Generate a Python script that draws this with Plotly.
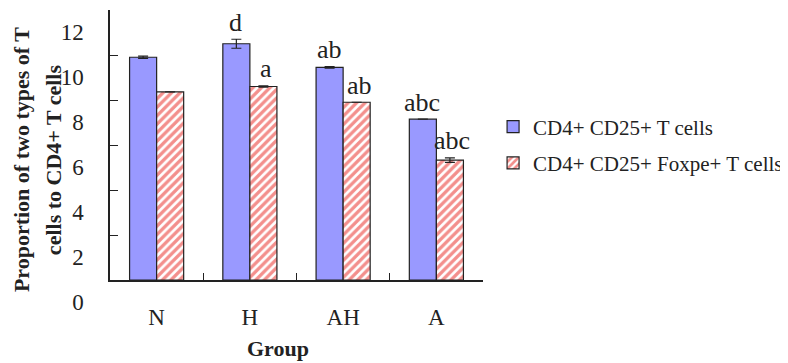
import plotly.graph_objects as go

groups = ["N", "H", "AH", "A"]
series_names = ["CD4+ CD25+ T cells", "CD4+ CD25+ Foxpe+ T cells"]
cd25 = [9.9, 10.5, 9.45, 7.15]
cd25_err = [0.05, 0.2, 0.03, 0.0]
foxp = [8.36, 8.6, 7.9, 5.33]
foxp_err = [0.0, 0.03, 0.0, 0.1]
cd25_letters = ["", "d", "ab", "abc"]
foxp_letters = ["", "a", "ab", "abc"]
y_ticks = [0, 2, 4, 6, 8, 10, 12]
y_title_lines = ["Proportion of two types of T", "cells to CD4+ T cells"]
x_title = "Group"

serif = "Liberation Serif"
ink = "#222222"
fig = go.Figure()
fig.add_trace(go.Bar(
    x=groups, y=cd25, name=series_names[0], legendgroup="g1",
    marker=dict(color="#9999FF", line=dict(color=ink, width=1.2)),
    error_y=dict(type="data", array=cd25_err, color=ink, thickness=1.2, width=5),
))
fig.add_trace(go.Bar(
    x=groups, y=foxp, name=series_names[1], legendgroup="g2",
    marker=dict(color="white", line=dict(color=ink, width=1.2),
                pattern=dict(shape="/", fgcolor="#E8201A", bgcolor="white", size=6, solidity=0.55)),
    error_y=dict(type="data", array=foxp_err, color=ink, thickness=1.2, width=5),
))

ann = []
for i, g in enumerate(groups):
    if cd25_letters[i]:
        ann.append(dict(x=g, y=cd25[i] + cd25_err[i], xref="x", yref="y", text=cd25_letters[i],
                        showarrow=False, xshift=-14, yshift=17, yanchor="middle",
                        font=dict(family=serif, size=26, color=ink)))
    if foxp_letters[i]:
        ann.append(dict(x=g, y=foxp[i] + foxp_err[i], xref="x", yref="y", text=foxp_letters[i],
                        showarrow=False, xshift=16, yshift=17, yanchor="middle",
                        font=dict(family=serif, size=26, color=ink)))
for line_text, px in zip(y_title_lines, [-0.2386, -0.1528]):
    ann.append(dict(x=px, y=0.444, xref="paper", yref="paper", showarrow=False, textangle=-90,
                    text="<b>" + line_text + "</b>", xanchor="center", yanchor="middle",
                    font=dict(family=serif, size=22, color=ink)))
ann.append(dict(x=0.45, y=-0.252, xref="paper", yref="paper", showarrow=False,
                text="<b>" + x_title + "</b>", yanchor="middle",
                font=dict(family=serif, size=22, color=ink)))

# page body has an 8px margin, so the figure is sized/positioned to fit the 788x363 window
fig.update_layout(
    width=780, height=355,
    margin=dict(l=102, r=305, t=2, b=83, autoexpand=False),
    paper_bgcolor="white", plot_bgcolor="white",
    barmode="group", bargap=0.42, bargroupgap=0,
    showlegend=True,
    legend=dict(x=1.027, y=0.5, yanchor="middle", xanchor="left",
                font=dict(family=serif, size=21, color=ink),
                traceorder="grouped", tracegroupgap=6, bgcolor="rgba(0,0,0,0)"),
    annotations=ann,
    xaxis=dict(showline=True, linecolor=ink, linewidth=1.5, ticks="inside",
               tickson="boundaries", ticklen=7, tickcolor=ink, automargin=False,
               tickfont=dict(family=serif, size=23, color=ink),
               ticklabelstandoff=16, showgrid=False, zeroline=False),
    yaxis=dict(range=[0, 12], tickvals=y_ticks, showline=True, linecolor=ink, linewidth=1.5,
               ticks="inside", ticklen=8, tickcolor=ink, automargin=False,
               tickfont=dict(family=serif, size=23, color=ink),
               ticklabelshift=22, ticklabelstandoff=20,
               showgrid=False, zeroline=False),
)
fig.write_html("out.html")
